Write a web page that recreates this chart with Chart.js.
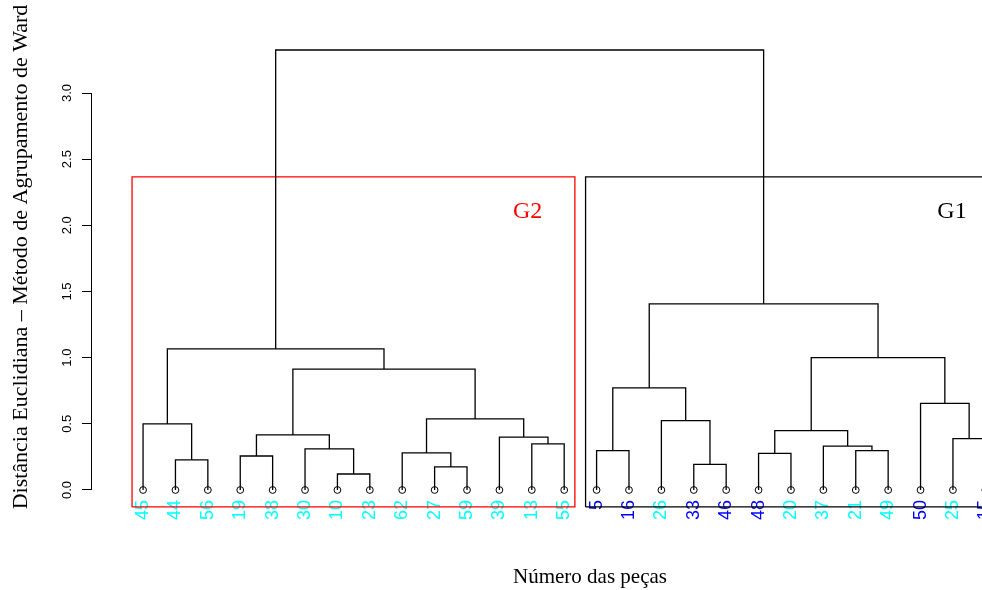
<!DOCTYPE html>
<html>
<head>
<meta charset="utf-8">
<script src="https://cdn.jsdelivr.net/npm/chart.js@4.4.1/dist/chart.umd.min.js"></script>
<style>
  html, body { margin: 0; padding: 0; overflow: hidden; background: #fff; }
  #wrap { width: 982px; height: 590px; overflow: hidden; position: relative; }
  canvas { display: block; }
</style>
</head>
<body>
<div id="wrap"><canvas id="dendro" width="1094" height="590"></canvas></div>
<script>
// Leaves in plotting order (left to right) and their label colours
const leafLabels = ['45','44','56','19','38','30','10','23','62','27','59','39','13','55',
                    '5','16','26','33','46','48','20','37','21','49','50','25','15'];
const leafColors = ['cyan','cyan','cyan','cyan','cyan','cyan','cyan','cyan','cyan','cyan','cyan','cyan','cyan','cyan',
                    'blue','blue','cyan','blue','blue','blue','cyan','cyan','cyan','cyan','blue','cyan','blue'];

// Merge table (hclust convention): negative = leaf at that 1-based position, positive = earlier merge
const mergeLeft   = [ -7, -10, -18,  -2,  -4, -20,  -9, -15, -23,  -6, -22, -13, -26, -12,   5,   6, -1, -17,   7, -25,   8,  15,  16,  17,  21,  24];
const mergeRight  = [ -8, -11, -19,  -3,  -5, -21,   2, -16, -24,   1,   9, -14, -27,  12,  10,  11,  4,   3,  14,  13,  18,  19,  20,  22,  23,  25];
const mergeHeight = [0.121,0.174,0.194,0.227,0.257,0.277,0.280,0.297,0.297,0.310,0.332,0.348,0.388,0.400,
                     0.416,0.448,0.499,0.524,0.537,0.655,0.771,0.914,1.000,1.066,1.407,3.325];

// Two groups cut from the tree
const groupNames     = ['G2', 'G1'];
const groupFirstLeaf = [1, 15];
const groupLastLeaf  = [14, 27];
const groupColors    = ['#ff0000', '#000000'];
const groupLabelX    = [12.87, 25.97];
const groupLabelY    = [2.1, 2.1];

const yTickValues = [0, 0.5, 1, 1.5, 2, 2.5, 3];

// ---- derive node coordinates from the merge table ----
const nodeX = [], nodeH = [];
function refX(r) { return r < 0 ? -r : nodeX[r - 1]; }
function refH(r) { return r < 0 ? 0 : nodeH[r - 1]; }
const datasets = [];

// leaf markers (drawn on top)
datasets.push({
  data: leafLabels.map((_, i) => ({ x: i + 1, y: 0 })),
  showLine: false,
  pointStyle: 'circle',
  pointRadius: 3.4,
  pointBorderColor: '#000',
  pointBackgroundColor: 'rgba(0,0,0,0)',
  pointBorderWidth: 1,
  clip: false
});

for (let k = 0; k < mergeHeight.length; k++) {
  const xl = refX(mergeLeft[k]), xr = refX(mergeRight[k]);
  const hl = refH(mergeLeft[k]), hr = refH(mergeRight[k]);
  const h = mergeHeight[k];
  nodeX.push((xl + xr) / 2);
  nodeH.push(h);
  datasets.push({
    data: [{ x: xl, y: hl }, { x: xl, y: h }, { x: xr, y: h }, { x: xr, y: hr }],
    borderColor: '#000',
    borderWidth: 1.3,
    pointRadius: 0,
    fill: false,
    tension: 0,
    clip: false
  });
}

// group rectangles: top halfway between the two highest merges, bottom at the plot floor
const nH = mergeHeight.length;
const cutHeight = (mergeHeight[nH - 1] + mergeHeight[nH - 2]) / 2;
const plotFloor = -0.128;
groupNames.forEach((g, i) => {
  const x0 = groupFirstLeaf[i] - 0.34, x1 = groupLastLeaf[i] + 0.33;
  datasets.push({
    data: [{ x: x0, y: plotFloor }, { x: x0, y: cutHeight }, { x: x1, y: cutHeight },
           { x: x1, y: plotFloor }, { x: x0, y: plotFloor }],
    borderColor: groupColors[i],
    borderWidth: 1.3,
    pointRadius: 0,
    fill: false,
    tension: 0,
    clip: false
  });
});

// group names and the y axis line between the first and last tick
const decorations = {
  id: 'decorations',
  afterDatasetsDraw(chart) {
    const { ctx, scales: { x, y }, chartArea } = chart;
    ctx.save();
    ctx.strokeStyle = '#000';
    ctx.lineWidth = 1;
    const ax = Math.round(chartArea.left) + 0.5;
    ctx.beginPath();
    ctx.moveTo(ax, y.getPixelForValue(yTickValues[0]));
    ctx.lineTo(ax, y.getPixelForValue(yTickValues[yTickValues.length - 1]));
    ctx.stroke();
    ctx.font = '24px "Liberation Serif", "Times New Roman", serif';
    ctx.textAlign = 'center';
    ctx.textBaseline = 'middle';
    groupNames.forEach((g, i) => {
      ctx.fillStyle = groupColors[i];
      ctx.fillText(g, x.getPixelForValue(groupLabelX[i]), y.getPixelForValue(groupLabelY[i]));
    });
    ctx.restore();
  }
};

new Chart(document.getElementById('dendro'), {
  type: 'line',
  data: { datasets },
  options: {
    responsive: false,
    animation: false,
    events: [],
    layout: { padding: { top: 14, left: 0, right: 0, bottom: 0 } },
    plugins: { legend: { display: false }, tooltip: { enabled: false } },
    scales: {
      x: {
        type: 'linear',
        bounds: 'data',
        min: -0.607,
        max: 30.2,
        afterBuildTicks: s => { s.ticks = leafLabels.map((_, i) => ({ value: i + 1 })); },
        afterFit: s => { s.height = 90; },
        grid: { display: false, drawTicks: false },
        border: { display: false },
        ticks: {
          autoSkip: false,
          minRotation: 90,
          maxRotation: 90,
          padding: 0,
          font: { family: '"Liberation Sans", Arial, sans-serif', size: 18 },
          color: ctx => leafColors[ctx.index],
          callback: (v, i) => leafLabels[i]
        },
        title: {
          display: true,
          text: 'Número das peças',
          color: '#000',
          font: { family: '"Liberation Serif", "Times New Roman", serif', size: 21 },
          padding: { top: 0, bottom: 0 }
        }
      },
      y: {
        type: 'linear',
        bounds: 'data',
        min: -0.0756,
        max: 3.597,
        afterBuildTicks: s => { s.ticks = yTickValues.map(v => ({ value: v })); },
        afterFit: s => { s.width = 91; },
        border: { display: false },
        grid: { display: true, drawOnChartArea: false, drawTicks: true, tickLength: 9, color: '#000', lineWidth: 1 },
        ticks: {
          minRotation: 90,
          maxRotation: 90,
          crossAlign: 'center',
          padding: 6,
          color: '#000',
          font: { family: '"Liberation Sans", Arial, sans-serif', size: 13 },
          callback: v => Number(v).toFixed(1)
        },
        title: {
          display: true,
          text: 'Distância Euclidiana – Método de Agrupamento de Ward',
          color: '#000',
          font: { family: '"Liberation Serif", "Times New Roman", serif', size: 22 },
          padding: { top: 8, bottom: 0 }
        }
      }
    }
  },
  plugins: [decorations]
});
</script>
</body>
</html>
